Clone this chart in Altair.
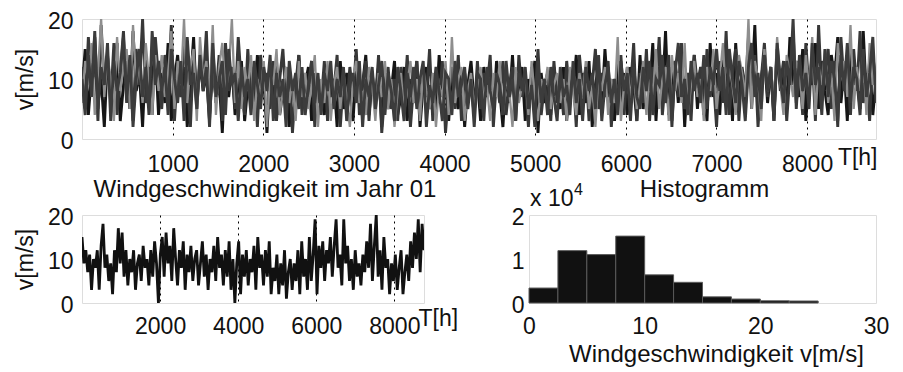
import altair as alt
import numpy as np
import pandas as pd

FONT = "Liberation Sans"
TXT = "#111111"
T_MAX = 8760

# ---- top panel: several years overlaid (values in m/s, evenly spaced over the year)
year_a = [12,5,17,8,14,3,19,9,13,6,16,4,11,18,7,13,3,15,9,20,6,12,4,17,10,
          5,14,8,19,3,12,7,16,10,2,15,6,13,9,18,4,11,7,14,3,16,8,12,5,17,
          9,4,15,7,12,2,14,8,11,5,13,3,10,15,6,12,1,9,14,4,11,7,13,2,10,
          6,13,3,11,8,14,2,10,5,12,7,15,4,9,13,3,11,6,14,1,8,12,5,10,3,
          12,6,14,2,9,13,4,11,7,15,3,10,6,13,1,8,12,5,14,3,11,7,9,4,13,
          5,11,8,14,2,10,6,13,4,9,12,3,14,7,10,2,12,6,15,4,9,11,3,13,6,
          10,4,13,7,11,2,14,8,12,3,9,15,5,11,7,13,2,10,6,14,4,12,8,16,3,
          11,6,15,3,12,8,17,4,10,14,2,13,7,16,5,11,3,14,9,12,4,15,7,10,2,
          13,6,18,4,11,15,3,12,8,17,5,14,2,10,16,7,12,4,15,9,13,3,11,18,6,
          12,4,16,8,14,3,19,7,11,15,5,13,2,17,9,12,4,15,8,18,6,11,3,14,9]
year_b = [8,15,4,11,17,6,10,2,14,7,12,16,3,9,13,5,18,8,11,2,14,6,10,15,4,
          11,6,16,3,10,14,7,12,2,9,17,5,13,8,11,3,15,6,10,1,13,7,12,4,9,
          13,3,9,12,5,14,7,10,1,11,6,13,4,8,12,2,10,7,14,5,9,12,3,11,6,
          9,4,12,7,10,2,13,5,11,8,3,12,6,9,14,4,10,7,12,2,11,5,8,13,4,
          7,12,3,10,6,13,2,9,12,5,11,4,14,7,10,3,12,8,5,11,2,9,13,6,10,
          3,12,7,10,4,13,8,2,11,6,14,5,9,12,3,10,7,13,1,11,6,9,4,12,8,
          5,12,3,10,8,14,4,11,6,13,2,9,12,5,15,7,10,3,13,6,11,4,12,9,3,
          14,5,11,8,16,3,12,7,18,4,10,13,6,15,2,11,8,14,5,12,9,3,16,7,11,
          4,14,9,12,3,16,7,11,5,13,8,19,4,10,14,6,12,3,15,8,11,5,17,9,13,
          7,15,3,11,9,16,5,13,8,4,14,10,17,6,12,3,15,9,11,5,18,7,13,4,10]
year_c = [6,13,9,16,4,11,20,7,14,10,3,17,8,12,15,5,19,9,13,6,16,10,4,14,8,
          14,7,11,18,5,13,9,20,6,12,15,3,17,10,13,7,19,4,12,16,8,11,20,6,13,
          5,12,8,14,3,10,7,13,2,11,9,15,4,8,12,6,10,3,13,7,11,5,9,14,2,
          10,6,13,3,9,12,5,11,7,2,10,13,6,8,4,12,9,3,11,7,13,5,10,2,8,
          11,4,9,13,6,10,3,12,8,5,11,2,9,7,13,4,17,6,10,12,3,8,11,5,9,
          12,6,9,3,11,7,13,4,10,8,2,12,6,9,11,4,13,7,3,10,8,12,5,9,11,
          6,10,3,12,8,4,11,7,13,5,9,2,11,8,12,4,10,6,17,3,9,12,7,11,5,
          9,13,4,11,7,15,5,10,12,3,14,8,11,6,16,4,9,13,7,10,3,12,8,15,5,
          10,16,6,12,9,4,14,11,7,20,5,13,10,3,15,8,12,6,17,9,4,14,11,7,13,
          11,5,14,8,17,4,12,9,15,6,11,3,16,10,13,7,19,5,12,8,14,4,16,9,12]
year_d = [10,4,14,7,18,5,12,9,16,3,13,8,11,17,6,14,2,10,15,7,12,4,18,9,13,
          8,12,4,15,10,6,13,3,17,9,11,5,14,8,12,2,16,7,10,13,4,15,9,11,3,
          12,7,10,4,13,9,5,12,8,14,3,11,7,10,2,13,8,11,5,12,4,9,13,6,11,
          4,11,8,13,5,10,7,12,3,9,11,6,13,2,10,7,12,5,9,13,4,11,8,3,12,
          8,3,11,7,12,5,10,13,2,9,6,12,8,3,11,10,4,13,7,9,12,5,10,2,11,
          10,3,12,8,5,11,9,4,13,7,10,3,11,8,12,5,9,2,13,6,10,4,12,7,3,
          12,7,9,4,13,6,10,3,12,8,11,5,14,3,9,12,6,10,4,13,8,11,3,12,7,
          5,12,8,13,4,10,9,14,6,12,3,11,16,7,10,4,13,8,11,6,14,5,12,9,15,
          8,12,4,15,10,6,13,9,3,12,16,7,11,5,14,8,12,3,16,10,6,13,9,20,5,
          14,8,11,5,16,9,12,4,15,7,13,10,3,14,8,16,6,12,10,4,15,7,11,17,6]

# ---- bottom left: year 01
year01 = [15,9,12,7,11, 3,10,8,12,3, 13,18,8,11,5, 9,2,12,7,17,
          9,16,6,12,4, 10,7,12,3,9, 11,5,13,8,10, 4,12,6,14,9,
          0,11,15,6,16, 9,13,5,17,10, 4,12,8,14,3, 11,7,13,5,10,
          12,4,9,14,6, 11,3,10,7,13, 5,15,8,11,4, 12,6,14,3,10,
          0,9,14,2,11, 6,12,4,10,7, 13,3,15,8,11, 4,12,6,14,2,
          8,5,11,2,9, 4,12,1,7,10, 3,9,5,12,2, 14,6,10,3,15,
          5,11,19,2,13, 8,14,5,12,9, 15,6,13,19,8, 11,4,19,9,13,
          5,10,3,12,6, 9,4,11,7,14, 8,18,5,13,20, 6,12,3,15,8,
          10,2,9,5,11, 3,8,12,2,7, 11,5,14,8,16, 10,19,7,18,12]

# ---- histogram
hist_edges = [0, 2.5, 5, 7.5, 10, 12.5, 15, 17.5, 20, 22.5, 25]
hist_counts = [3400, 11900, 11000, 15200, 6400, 4700, 1400, 900, 500, 450]

top_ticks = [1000, 2000, 3000, 4000, 5000, 6000, 7000, 8000]
low_ticks = [2000, 4000, 6000, 8000]
v_ticks = [0, 10, 20]
hist_x_ticks = [0, 10, 20, 30]
hist_y_ticks = [0, 10000, 20000]

top_names = ["Jahr B", "Jahr A", "Jahr C", "Jahr D"]
top_values = [year_b, year_a, year_c, year_d]
top_colors = ["#161616", "#383838", "#8e8e8e", "#3c3c3c"]
top_widths = [2.9, 2.9, 2.3, 2.9]


def series_df(values, name):
    return pd.DataFrame({"T": np.linspace(0, T_MAX, len(values)), "v": values, "s": name})


def x_axis(values, title, title_x, title_y, align, pad, grid=True, title_size=23):
    return alt.Axis(values=values, title=title, format="d", grid=grid, gridDash=[2, 4],
                    gridColor="black", gridOpacity=1, gridWidth=1, ticks=False, domain=False,
                    labelFont=FONT, labelFontSize=23, labelColor=TXT, labelBaseline="alphabetic",
                    labelPadding=pad, labelFlush=False, labelOverlap=False,
                    titleFont=FONT, titleFontSize=title_size, titleFontWeight="normal",
                    titleColor=TXT, titleX=title_x, titleY=title_y, titleAlign=align,
                    titleBaseline="alphabetic")


def v_axis(h):
    return alt.Axis(values=v_ticks, title="v[m/s]", format="d", grid=False, ticks=False,
                    domain=False, labelFont=FONT, labelFontSize=23, labelColor=TXT,
                    labelPadding=9, labelOffset=2.5, labelOverlap=False, labelFlush=False,
                    titleFont=FONT, titleFontSize=23, titleFontWeight="normal", titleColor=TXT,
                    titleAngle=270, titleX=-57, titleY=h / 2, titleAlign="center",
                    titleBaseline="middle")


def title_mark(text, x, y):
    return alt.Chart(pd.DataFrame({"t": [text]})).mark_text(
        font=FONT, fontSize=24, align="center", baseline="alphabetic", color=TXT
    ).encode(text="t:N", x=alt.value(x), y=alt.value(y))


TOP_W, TOP_H = 794, 120
top_x = alt.X("T:Q", scale=alt.Scale(domain=[0, T_MAX], nice=False, zero=False),
              axis=x_axis(top_ticks, "T[h]", TOP_W + 1, 25, "right", 32))
top_y = alt.Y("v:Q", scale=alt.Scale(domain=[0, 20], nice=False), axis=v_axis(TOP_H))

top_layers = []
for name, vals, col, sw in zip(top_names, top_values, top_colors, top_widths):
    top_layers.append(
        alt.Chart(series_df(vals, name)).mark_line(color=col, strokeWidth=sw, clip=True)
        .encode(x=top_x, y=top_y)
    )
top = alt.layer(*top_layers).properties(width=TOP_W, height=TOP_H)

BL_W, BL_H = 342, 88
bl_line = alt.Chart(series_df(year01, "Jahr 01")).mark_line(
    color="#111111", strokeWidth=2.8, clip=True
).encode(
    x=alt.X("T:Q", scale=alt.Scale(domain=[0, T_MAX], nice=False, zero=False),
            axis=x_axis(low_ticks, "T[h]", 336, 22, "left", 30.5)),
    y=alt.Y("v:Q", scale=alt.Scale(domain=[0, 20], nice=False), axis=v_axis(BL_H)),
)
bl = alt.layer(bl_line, title_mark("Windgeschwindigkeit im Jahr 01", BL_W / 2 + 12, -18)).properties(
    width=BL_W, height=BL_H)

HR_W, HR_H = 347, 88
hist_df = pd.DataFrame({"lo": hist_edges[:-1], "hi": hist_edges[1:], "n": hist_counts})
bars = alt.Chart(hist_df).mark_bar(color="#111111", stroke="#5a5a5a", strokeWidth=1).encode(
    x=alt.X("lo:Q", scale=alt.Scale(domain=[0, 30], nice=False),
            axis=x_axis(hist_x_ticks, "Windgeschwindigkeit v[m/s]", 187, 58, "center", 30,
                        grid=False, title_size=24)),
    x2="hi:Q",
    y=alt.Y("n:Q", scale=alt.Scale(domain=[0, 20000], nice=False),
            axis=alt.Axis(values=hist_y_ticks, title=None, grid=False, ticks=False, domain=False,
                          labelExpr="datum.value / 10000", labelOffset=2.5,
                          labelFont=FONT, labelFontSize=23, labelColor=TXT, labelPadding=5,
                          labelOverlap=False, labelFlush=False)),
    y2=alt.datum(0),
)
exp_base = alt.Chart(pd.DataFrame({"t": ["x 10"]})).mark_text(
    font=FONT, fontSize=23, align="left", baseline="alphabetic", color=TXT
).encode(text="t:N", x=alt.value(1), y=alt.value(-9))
exp_pow = alt.Chart(pd.DataFrame({"t": ["4"]})).mark_text(
    font=FONT, fontSize=16, align="left", baseline="alphabetic", color=TXT
).encode(text="t:N", x=alt.value(45), y=alt.value(-20))

hist = alt.layer(bars, exp_base, exp_pow, title_mark("Histogramm", HR_W / 2 + 2, -18)).properties(
    width=HR_W, height=HR_H)

bottom = alt.hconcat(bl, hist, spacing=105, bounds="flush")
chart = alt.vconcat(top, bottom, spacing=76, bounds="flush").properties(
    padding={"left": 5, "top": 2, "right": 5, "bottom": 0}
).configure_view(stroke="black", strokeWidth=1.2).configure(background="white")

chart.save("out.html", embed_options={"renderer": "svg", "actions": False})
